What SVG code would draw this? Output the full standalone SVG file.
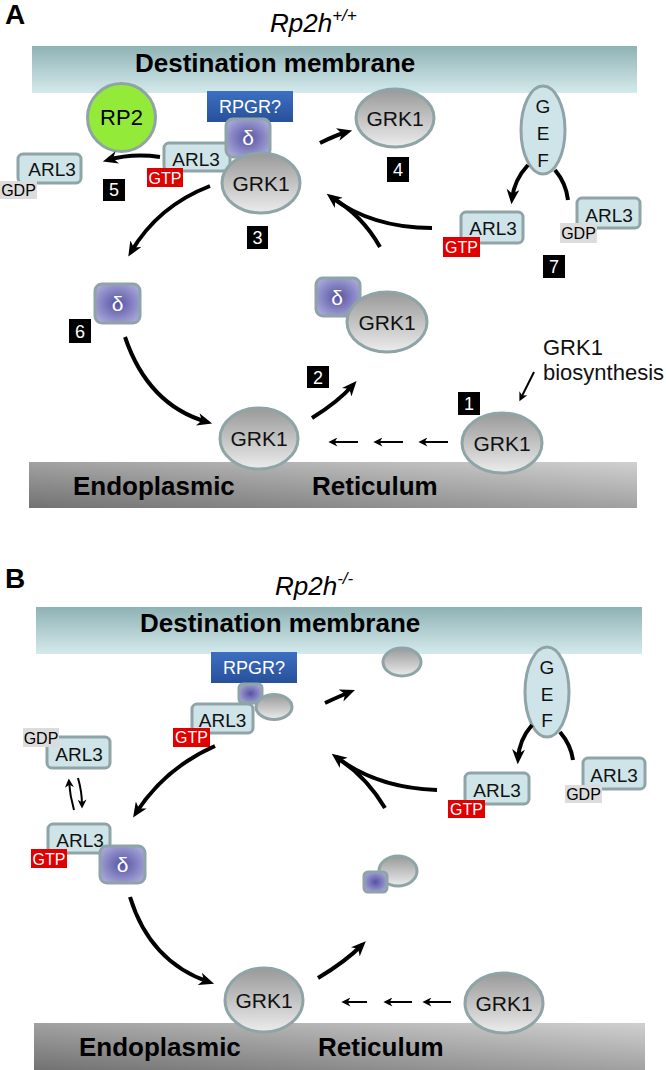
<svg xmlns="http://www.w3.org/2000/svg" width="666" height="1070" viewBox="0 0 666 1070">
<defs>
<linearGradient id="gMem" x1="0" y1="0" x2="0" y2="1"><stop offset="0" stop-color="#8fb2b5"/><stop offset="1" stop-color="#d4eaec"/></linearGradient>
<linearGradient id="gER" x1="0" y1="1" x2="1" y2="0"><stop offset="0" stop-color="#727272"/><stop offset="1" stop-color="#d0d0d0"/></linearGradient>
<linearGradient id="gGrk" x1="0" y1="0" x2="0" y2="1"><stop offset="0" stop-color="#999999"/><stop offset="1" stop-color="#ececec"/></linearGradient>
<linearGradient id="gRpgr" x1="0" y1="0" x2="0" y2="1"><stop offset="0" stop-color="#3d6fc2"/><stop offset="1" stop-color="#27509a"/></linearGradient>
<radialGradient id="gDelta" cx="0.5" cy="0.5" r="0.6"><stop offset="0" stop-color="#5652a3"/><stop offset="1" stop-color="#aaa9da"/></radialGradient>
<marker id="ah" markerUnits="userSpaceOnUse" viewBox="0 0 14 12" markerWidth="15" markerHeight="13" refX="9" refY="6" orient="auto"><path d="M0,0 L14,6 L0,12 L4,6 z" fill="#000"/></marker>
<marker id="ahs" markerUnits="userSpaceOnUse" viewBox="0 0 10 10" markerWidth="10" markerHeight="9" refX="6" refY="5" orient="auto"><path d="M0,0 L10,5 L0,10 L3,5 z" fill="#000"/></marker>
<style>
.t{font-family:"Liberation Sans",Arial,sans-serif}
.b{font-weight:bold}
.mem{fill:url(#gMem)}
.er{fill:url(#gER)}
.grk{fill:url(#gGrk);stroke:#8ea4a6;stroke-width:3}
.arl{fill:#cfe4e8;stroke:#8ea4a6;stroke-width:3}
.dl{fill:url(#gDelta);stroke:#8ea4a6;stroke-width:3}
.rpgr{fill:url(#gRpgr)}
.gtp{fill:#e00000}
.gdp{fill:#dcdcdc}
.nb{fill:#000}
.nt{fill:#fff;font-size:18px;text-anchor:middle}
.lbl{font-size:19px;text-anchor:middle;fill:#111}
.gk{font-size:21px;text-anchor:middle;fill:#111}
.wt{fill:#fff;text-anchor:middle}
.sm{font-size:16px;text-anchor:middle}
.big{font-size:26px}
.arrow{fill:none;stroke:#000;stroke-width:4;marker-end:url(#ah)}
.line{fill:none;stroke:#000;stroke-width:4}
.thin{fill:none;stroke:#000;stroke-width:2;marker-end:url(#ahs)}
</style>
</defs>
<rect width="666" height="1070" fill="#fff"/>

<!-- Panel A -->
<g id="panelA-labels" class="t">
<text x="5" y="24" class="b" font-size="28">A</text>
<text x="270" y="32" font-size="26" font-style="italic">Rp2h<tspan dy="-11" font-size="17">+/+</tspan></text>
</g>
<g id="A-membrane">
<rect class="mem" x="32" y="46" width="605" height="47"/>
<text class="t b big" x="135" y="72">Destination membrane</text>
</g>
<g id="A-er">
<rect class="er" x="29" y="462" width="608" height="46"/>
<text class="t b big" x="73" y="495">Endoplasmic</text>
<text class="t b big" x="312" y="495">Reticulum</text>
</g>
<g id="A-rp2">
<circle cx="121.5" cy="117.5" r="34" fill="#94ea38" stroke="#8ea4a6" stroke-width="3"/>
<text class="t" x="121.5" y="125" font-size="22" text-anchor="middle">RP2</text>
</g>
<g id="A-rpgr">
<rect class="rpgr" x="207" y="91" width="86" height="31"/>
<text class="t wt" x="250" y="113" font-size="18">RPGR?</text>
</g>
<g id="A-complex3">
<rect class="arl" x="164" y="143" width="66" height="28" rx="5"/>
<text class="t lbl" x="196" y="166">ARL3</text>
<rect class="gtp" x="147" y="168" width="36" height="19"/>
<text class="t wt sm" x="165" y="184">GTP</text>
<rect class="dl" x="226" y="119" width="44" height="38" rx="7"/>
<text class="t wt" x="248" y="145" font-size="21">δ</text>
<ellipse class="grk" cx="261" cy="183" rx="39" ry="30"/>
<text class="t gk" x="261" y="191">GRK1</text>
</g>
<g id="A-arl3gdp-left">
<rect class="arl" x="18" y="154" width="63" height="29" rx="5"/>
<text class="t lbl" x="52" y="176">ARL3</text>
<rect class="gdp" x="0" y="181" width="37" height="18"/>
<text class="t sm" x="18.5" y="196">GDP</text>
</g>
<g id="A-grk1-dest">
<ellipse class="grk" cx="395" cy="118" rx="39" ry="29"/>
<text class="t gk" x="395" y="126">GRK1</text>
</g>
<g id="A-gef">
<ellipse class="arl" cx="543" cy="130" rx="22" ry="44"/>
<text class="t lbl" x="543" y="113">G</text>
<text class="t lbl" x="543" y="140">E</text>
<text class="t lbl" x="543" y="167">F</text>
</g>
<g id="A-arl3gtp-right">
<rect class="arl" x="461" y="212" width="62" height="31" rx="5"/>
<text class="t lbl" x="493" y="235">ARL3</text>
<rect class="gtp" x="443" y="237" width="37" height="20"/>
<text class="t wt sm" x="461.5" y="253">GTP</text>
</g>
<g id="A-arl3gdp-right">
<rect class="arl" x="577" y="198" width="63" height="30" rx="5"/>
<text class="t lbl" x="609" y="222">ARL3</text>
<rect class="gdp" x="560" y="223" width="37" height="20"/>
<text class="t sm" x="578.5" y="239">GDP</text>
</g>
<g id="A-delta6">
<rect class="dl" x="95" y="284" width="45" height="39" rx="7"/>
<text class="t wt" x="117.5" y="311" font-size="21">δ</text>
</g>
<g id="A-complex2">
<rect class="dl" x="316" y="278" width="44" height="38" rx="7"/>
<text class="t wt" x="337" y="305" font-size="21">δ</text>
<ellipse class="grk" cx="387" cy="322" rx="40" ry="30"/>
<text class="t gk" x="387" y="330">GRK1</text>
</g>
<g id="A-grk1-er-left">
<ellipse class="grk" cx="259" cy="438.5" rx="39" ry="30.5"/>
<text class="t gk" x="259" y="446">GRK1</text>
</g>
<g id="A-grk1-er-right">
<ellipse class="grk" cx="502" cy="443" rx="40" ry="30"/>
<text class="t gk" x="502" y="451">GRK1</text>
</g>
<g id="A-biosynthesis" class="t" font-size="22" fill="#111">
<text x="543" y="355">GRK1</text>
<text x="543" y="380">biosynthesis</text>
</g>
<g id="A-numbers" class="t">
<rect class="nb" x="458" y="392" width="22" height="23"/><text class="nt" x="469" y="410">1</text>
<rect class="nb" x="307" y="366" width="22" height="22"/><text class="nt" x="318" y="384">2</text>
<rect class="nb" x="247" y="226" width="21" height="23"/><text class="nt" x="257.5" y="244">3</text>
<rect class="nb" x="387" y="157" width="22" height="25"/><text class="nt" x="398" y="176">4</text>
<rect class="nb" x="103" y="179" width="22" height="22"/><text class="nt" x="114" y="196">5</text>
<rect class="nb" x="69" y="319" width="22" height="24"/><text class="nt" x="80" y="338">6</text>
<rect class="nb" x="543" y="255" width="22" height="23"/><text class="nt" x="554" y="273">7</text>
</g>
<g id="A-connectors">
<path class="arrow" d="M160,157 Q132,153 108,160"/>
<path class="arrow" d="M210,186 Q158,206 131,252"/>
<path class="arrow" d="M125,337 Q148,405 207,422"/>
<path class="arrow" d="M312,418 Q338,402 353,385"/>
<path class="arrow" d="M432,228 Q372,228 331,197"/>
<path class="line" d="M380,247 Q362,215 331,197"/>
<path class="arrow" d="M320,143 Q336,135 347,132"/>
<path class="arrow" d="M528,165 Q514,180 512,199"/>
<path class="line" d="M555,170 Q566,183 568,200"/>
<path class="thin" d="M534,372 L521,398"/>
<path class="thin" d="M448,442 L422,442"/>
<path class="thin" d="M403,442 L377,442"/>
<path class="thin" d="M358,442 L332,442"/>
</g>

<!-- Panel B -->
<g id="panelB-labels" class="t">
<text x="5" y="588" class="b" font-size="28">B</text>
<text x="275" y="595" font-size="26" font-style="italic">Rp2h<tspan dy="-11" font-size="17">-/-</tspan></text>
</g>
<g id="B-membrane">
<rect class="mem" x="36" y="607" width="606" height="47"/>
<text class="t b big" x="140" y="632">Destination membrane</text>
</g>
<g id="B-er">
<rect class="er" x="34" y="1023" width="611" height="47"/>
<text class="t b big" x="79" y="1056">Endoplasmic</text>
<text class="t b big" x="318" y="1056">Reticulum</text>
</g>
<g id="B-rpgr">
<rect class="rpgr" x="211" y="652" width="86" height="31"/>
<text class="t wt" x="254" y="674" font-size="18">RPGR?</text>
</g>
<g id="B-complex-top">
<rect class="dl" x="239" y="684" width="23" height="19" rx="4"/>
<ellipse class="grk" cx="274" cy="707" rx="18" ry="12.5"/>
<rect class="arl" x="192" y="704" width="61" height="29" rx="5"/>
<text class="t lbl" x="222.5" y="727">ARL3</text>
<rect class="gtp" x="173" y="728" width="37" height="19"/>
<text class="t wt sm" x="191.5" y="743">GTP</text>
</g>
<g id="B-grk-dest">
<ellipse class="grk" cx="402" cy="662" rx="19" ry="14"/>
</g>
<g id="B-gef">
<ellipse class="arl" cx="547" cy="692" rx="22" ry="45"/>
<text class="t lbl" x="547" y="674">G</text>
<text class="t lbl" x="547" y="701">E</text>
<text class="t lbl" x="547" y="727">F</text>
</g>
<g id="B-arl3gtp-right">
<rect class="arl" x="465" y="773" width="64" height="31" rx="5"/>
<text class="t lbl" x="497" y="797">ARL3</text>
<rect class="gtp" x="448" y="800" width="37" height="18"/>
<text class="t wt sm" x="466.5" y="815">GTP</text>
</g>
<g id="B-arl3gdp-right">
<rect class="arl" x="583" y="758" width="62" height="31" rx="5"/>
<text class="t lbl" x="614" y="782">ARL3</text>
<rect class="gdp" x="565" y="785" width="37" height="18"/>
<text class="t sm" x="583.5" y="800">GDP</text>
</g>
<g id="B-complex-mid">
<ellipse class="grk" cx="398" cy="871" rx="19" ry="15"/>
<rect class="dl" x="364" y="872" width="23" height="20" rx="4"/>
</g>
<g id="B-arl3gdp-left">
<rect class="arl" x="47" y="737" width="63" height="31" rx="5"/>
<text class="t lbl" x="79" y="761">ARL3</text>
<rect class="gdp" x="23" y="728" width="36" height="19"/>
<text class="t sm" x="41" y="744">GDP</text>
</g>
<g id="B-complex-left">
<rect class="arl" x="48" y="824" width="62" height="29" rx="5"/>
<text class="t lbl" x="80" y="847">ARL3</text>
<rect class="gtp" x="31" y="849" width="36" height="19"/>
<text class="t wt sm" x="49" y="865">GTP</text>
<rect class="dl" x="100" y="846" width="45" height="37" rx="7"/>
<text class="t wt" x="122.5" y="872" font-size="21">δ</text>
</g>
<g id="B-grk1-er-left">
<ellipse class="grk" cx="264" cy="1000" rx="39" ry="32"/>
<text class="t gk" x="264" y="1008">GRK1</text>
</g>
<g id="B-grk1-er-right">
<ellipse class="grk" cx="504" cy="1003" rx="39" ry="30"/>
<text class="t gk" x="504" y="1011">GRK1</text>
</g>
<g id="B-connectors">
<path class="arrow" d="M325,703 Q340,696 350,692"/>
<path class="arrow" d="M215,746 Q165,768 136,813"/>
<path class="thin" d="M74,810 Q70,796 69,782"/>
<path class="thin" d="M78,778 Q82,792 82,805"/>
<path class="arrow" d="M130,897 Q150,962 209,982"/>
<path class="arrow" d="M318,978 Q345,962 362,945"/>
<path class="arrow" d="M437,790 Q377,788 336,757"/>
<path class="line" d="M385,808 Q366,776 336,757"/>
<path class="arrow" d="M532,725 Q519,740 518,759"/>
<path class="line" d="M560,732 Q571,745 573,760"/>
<path class="thin" d="M367,1002 L345,1002"/>
<path class="thin" d="M412,1002 L387,1002"/>
<path class="thin" d="M451,1002 L426,1002"/>
</g>
</svg>
